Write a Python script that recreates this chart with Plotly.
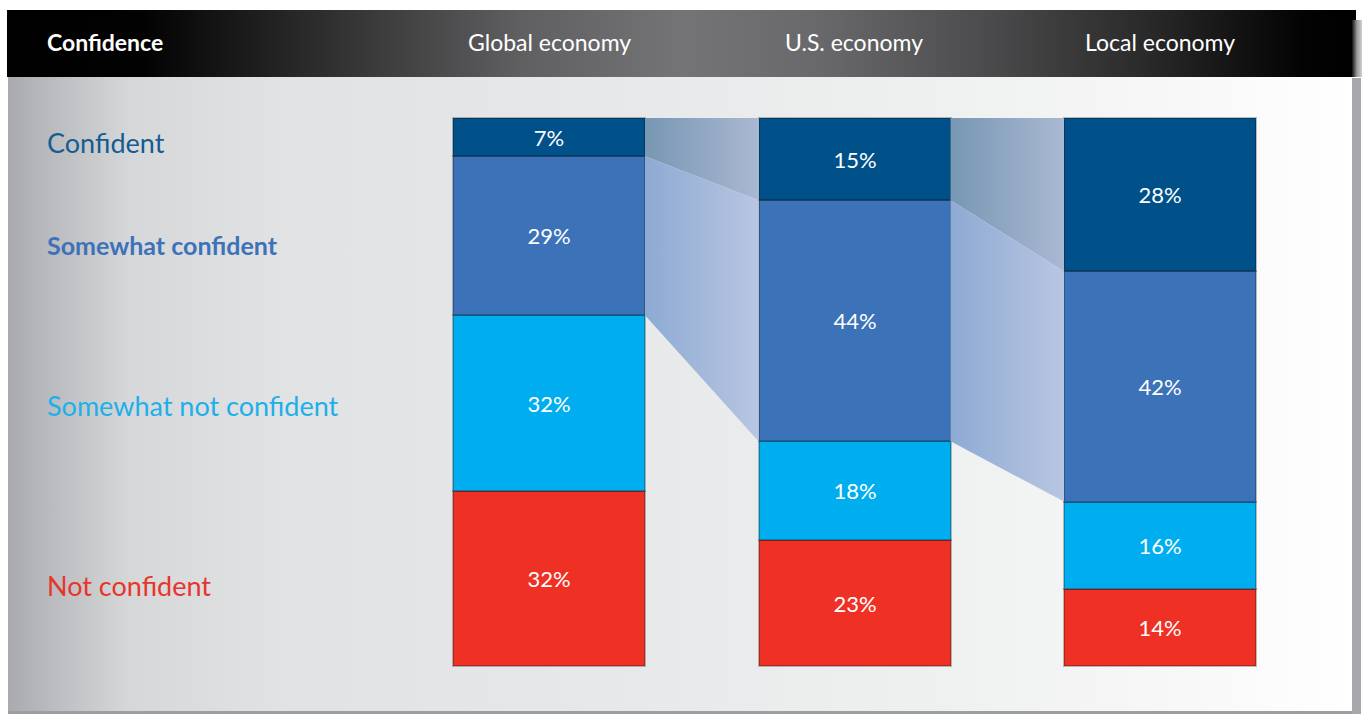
import plotly.graph_objects as go

# ---- data -------------------------------------------------------------
economies = ["Global economy", "U.S. economy", "Local economy"]
levels = ["Confident", "Somewhat confident", "Somewhat not confident", "Not confident"]
confident = [7, 15, 28]
somewhat_confident = [29, 44, 42]
somewhat_not_confident = [32, 18, 16]
not_confident = [32, 23, 14]

level_colors = {
    "Confident": "#00508a",
    "Somewhat confident": "#3b72b8",
    "Somewhat not confident": "#00aeef",
    "Not confident": "#ee3124",
}
label_colors = {
    "Confident": "#145c92",
    "Somewhat confident": "#3d72b9",
    "Somewhat not confident": "#1bb0ea",
    "Not confident": "#e8352b",
}

W, H = 1364, 715
FONT = "Lato"

# pixel layout of the bar area
centers_px = [549, 854, 1160]
bar_w_px = 192
top_px, bottom_px = 118, 666
step_px = centers_px[1] - centers_px[0] + 0.5
px_per_pct = (bottom_px - top_px) / 100.0

x2_range = [-centers_px[0] / step_px, (W - centers_px[0]) / step_px]
y2_range = [-(H - bottom_px) / px_per_pct, 100 + top_px / px_per_pct]
bar_width = bar_w_px / step_px

fig = go.Figure()


def rect(x0, y0, x1, y1, colorscale=None, color=None):
    kw = dict(
        x=[x0, x1, x1, x0, x0], y=[y0, y0, y1, y1, y0],
        mode="lines", line=dict(width=0), fill="toself",
        hoverinfo="skip", showlegend=False, xaxis="x", yaxis="y",
    )
    if colorscale:
        kw["fillgradient"] = dict(type="horizontal", colorscale=colorscale)
    else:
        kw["fillcolor"] = color
    fig.add_trace(go.Scatter(**kw))


# card shadow and background
rect(1350, 78, 1361, 714, color="#a7a8ab")
rect(8, 709, 1352, 714, color="#9d9ea1")
rect(8, 10, 1352, 711, colorscale=[
    [0.0, "#a8aaad"], [0.03, "#b9babd"], [0.09, "#d6d7d9"], [0.2, "#e1e2e4"],
    [0.45, "#e7e8e9"], [0.7, "#eff0f0"], [0.88, "#f8f8f8"], [1.0, "#ffffff"],
])
# header band
rect(7, 10, 1356, 77, colorscale=[
    [0.0, "#000000"], [0.1, "#020202"], [0.25, "#333334"], [0.38, "#5f5f61"],
    [0.5, "#747477"], [0.6, "#69696b"], [0.72, "#4d4d4f"], [0.85, "#282828"],
    [0.96, "#030303"], [1.0, "#000000"],
])
rect(1352, 20, 1362, 77, colorscale=[[0, "#111111"], [0.5, "#9a9a9c"], [1, "#d0d0d2"]])

# connecting bands between neighbouring bars (upper two levels)
half = bar_width / 2
band_styles = [
    ("Confident", ["#7797b3", "#aab8d2"]),
    ("Somewhat confident", ["#8daad3", "#b8c6e2"]),
]
series = {
    "Confident": confident,
    "Somewhat confident": somewhat_confident,
}
for i in range(len(economies) - 1):
    xa, xb = i + half, i + 1 - half
    top_a, top_b = 100.0, 100.0
    for name, (c0, c1) in band_styles:
        vals = series[name]
        bot_a, bot_b = top_a - vals[i], top_b - vals[i + 1]
        fig.add_trace(go.Scatter(
            x=[xa, xb, xb, xa, xa], y=[top_a, top_b, bot_b, bot_a, top_a],
            mode="lines", line=dict(width=0), fill="toself",
            fillgradient=dict(type="horizontal", colorscale=[[0, c0], [1, c1]]),
            hoverinfo="skip", showlegend=False, xaxis="x2", yaxis="y2",
        ))
        top_a, top_b = bot_a, bot_b

# stacked bars, bottom level first
stack = [
    ("Not confident", not_confident),
    ("Somewhat not confident", somewhat_not_confident),
    ("Somewhat confident", somewhat_confident),
    ("Confident", confident),
]
for name, vals in stack:
    fig.add_trace(go.Bar(
        x=list(range(len(economies))), y=vals, width=bar_width,
        name=name, marker=dict(color=level_colors[name],
                               line=dict(color="rgba(0,0,0,0.25)", width=2)),
        text=[f"{v}%" for v in vals], textposition="inside",
        insidetextanchor="middle", textangle=0, constraintext="none",
        textfont=dict(family=FONT, size=22, color="white"),
        hoverinfo="skip", showlegend=False, xaxis="x2", yaxis="y2",
    ))

annotations = [
    dict(x=45, y=42, text="<b>Confidence</b>", xanchor="left",
         font=dict(family=FONT, size=23, color="white")),
]
for name, cx in zip(economies, centers_px):
    annotations.append(dict(x=cx, y=42, text=name, xanchor="center",
                            font=dict(family=FONT, size=23, color="white")))

label_y = {"Confident": 142, "Somewhat confident": 245,
           "Somewhat not confident": 405, "Not confident": 585}
for name in levels:
    txt = f"<b>{name}</b>" if name == "Somewhat confident" else name
    sz = 25 if name == "Somewhat confident" else 27
    annotations.append(dict(x=45, y=label_y[name], text=txt, xanchor="left",
                            font=dict(family=FONT, size=sz, color=label_colors[name])))
for a in annotations:
    a.update(xref="x", yref="y", yanchor="middle", showarrow=False)

fig.update_layout(
    width=W, height=H, margin=dict(l=0, r=0, t=0, b=0),
    paper_bgcolor="white", plot_bgcolor="rgba(0,0,0,0)",
    barmode="stack", bargap=0, showlegend=False,
    xaxis=dict(range=[0, W], visible=False, fixedrange=True),
    yaxis=dict(range=[H, 0], visible=False, fixedrange=True),
    xaxis2=dict(range=x2_range, overlaying="x", visible=False, fixedrange=True),
    yaxis2=dict(range=y2_range, overlaying="y", visible=False, fixedrange=True),
    annotations=annotations,
)

fig.write_html("out.html", config={"displayModeBar": False})
